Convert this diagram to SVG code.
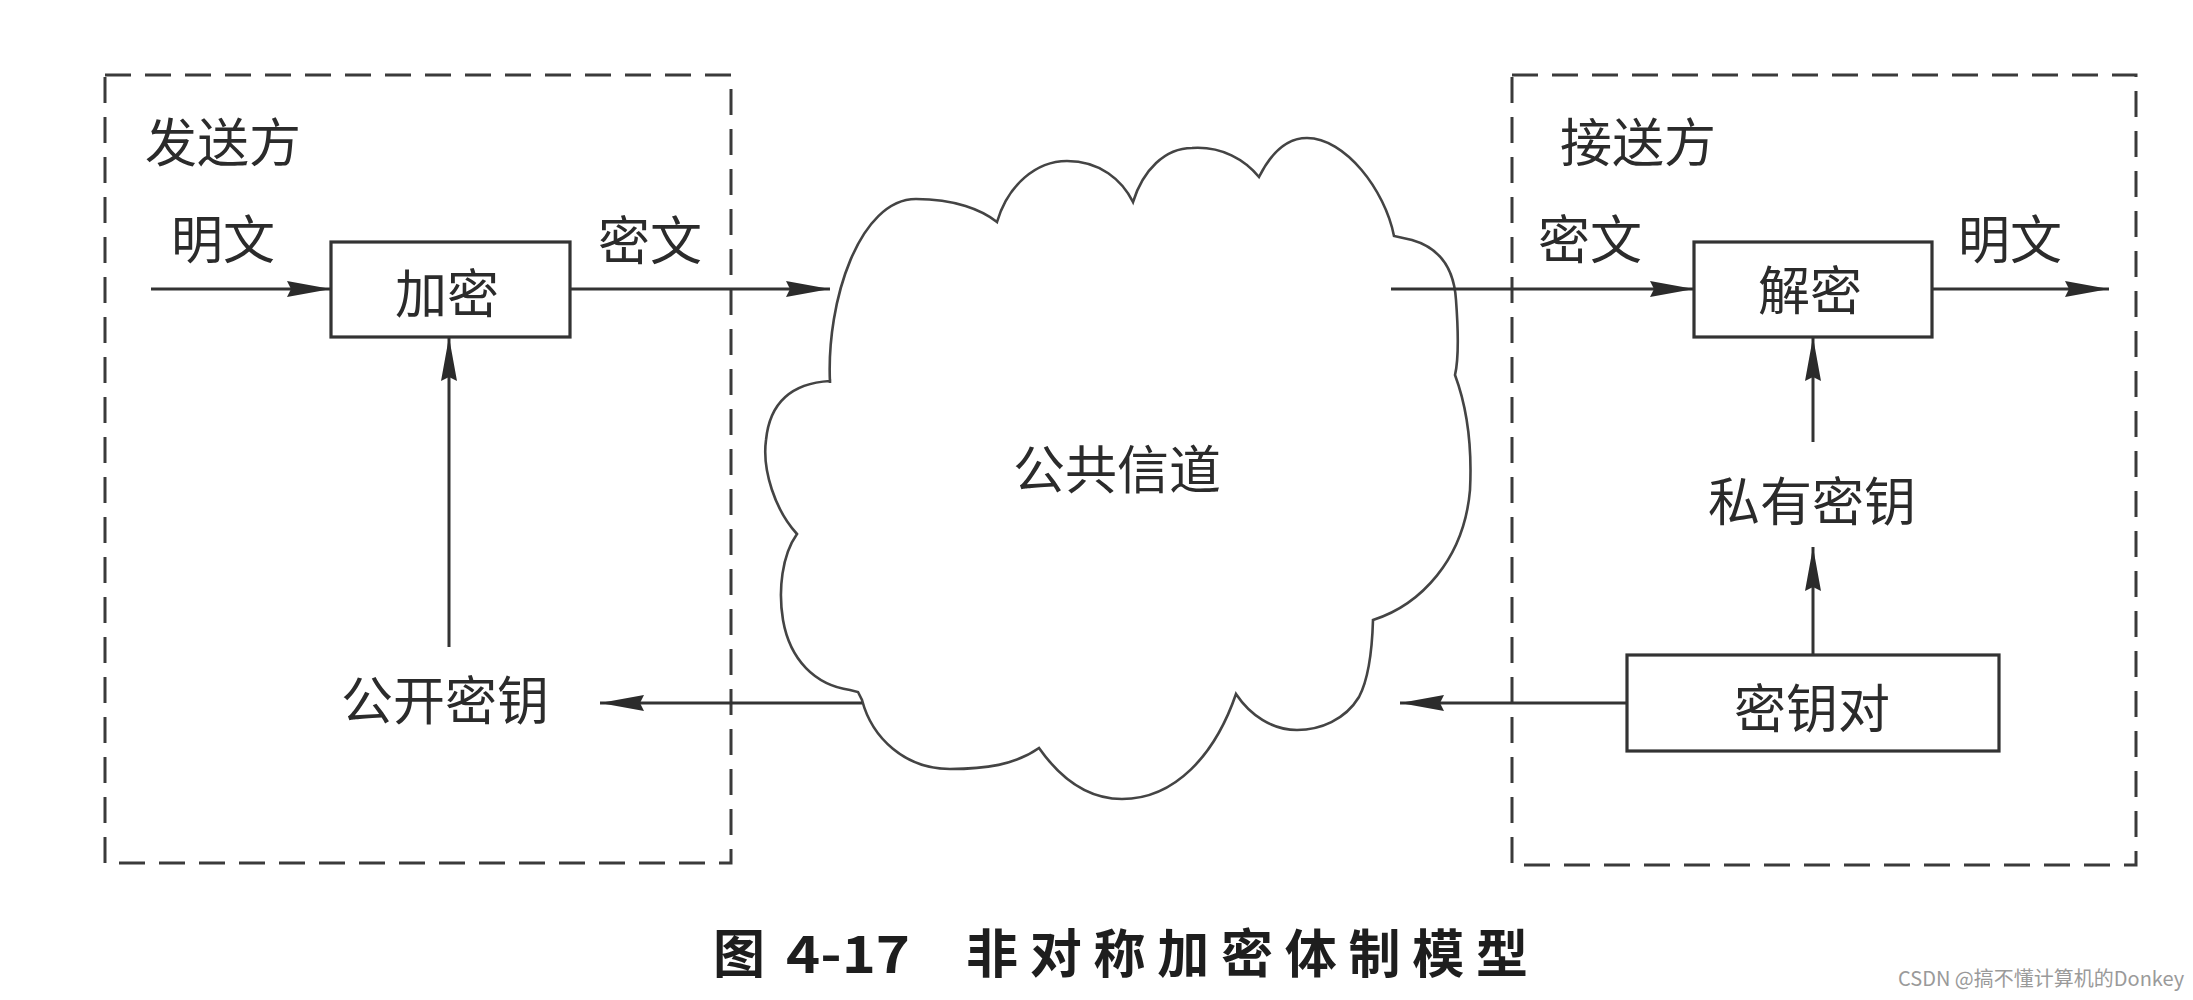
<svg xmlns="http://www.w3.org/2000/svg" width="2193" height="1000" viewBox="0 0 2193 1000">
<style>
  .bg { fill: #ffffff; }
  .zone { fill: none; stroke: #3a3a3a; stroke-width: 3; stroke-dasharray: 26 14; }
  .box { fill: #ffffff; stroke: #333333; stroke-width: 3.2; }
  .cloud { fill: #ffffff; stroke: #444444; stroke-width: 2.6; }
  .lbl { font-family: "Noto Sans CJK SC", "Noto Sans", sans-serif; font-size: 52px; fill: #2b2b2b; dominant-baseline: central; }
  .mid { text-anchor: middle; }
  .conn { stroke: #333333; stroke-width: 3; fill: none; marker-end: url(#ah); }
  .cap { font-family: "Noto Sans CJK SC", "Noto Sans", sans-serif; font-size: 52px; font-weight: bold; fill: #1e1e1e; }
  .wm { font-family: "Noto Sans CJK SC", "Noto Sans", sans-serif; font-size: 20px; fill: #9a9a9a; }
</style>
<defs>
  <marker id="ah" markerUnits="userSpaceOnUse" markerWidth="46" markerHeight="18" refX="44" refY="8" orient="auto">
    <path d="M0,0 L44,8 L0,16 L4,8 Z" fill="#2b2b2b"/>
  </marker>
</defs>
<rect class="bg" x="0" y="0" width="2193" height="1000"/>

<g id="sender">
  <rect class="zone" x="105" y="75" width="626" height="788"/>
  <text class="lbl" x="145" y="139">发送方</text>
</g>
<g id="receiver">
  <rect class="zone" x="1512" y="75" width="624" height="790"/>
  <text class="lbl" x="1560" y="139">接送方</text>
</g>

<g id="channel">
  <path class="cloud" d="M 830 383 C 826 300, 860 199, 916 199 C 955 199, 982 210, 997 222 C 1008 185, 1036 161, 1067 161 C 1100 161, 1122 180, 1133 202 C 1143 170, 1165 148, 1192 148 C 1222 146, 1245 160, 1259 177 C 1270 155, 1285 138, 1307 138 C 1345 138, 1385 190, 1394 236 L 1412 240 C 1440 248, 1454 268, 1456 300 C 1459 340, 1458 362, 1455 375 C 1468 410, 1472 450, 1470 490 C 1464 560, 1420 605, 1373 620 C 1372 655, 1368 680, 1359 697 C 1345 720, 1320 730, 1297 730 C 1272 730, 1250 715, 1236 694 C 1215 755, 1175 799, 1122 799 C 1085 799, 1058 775, 1039 748 C 1015 765, 985 769, 950 769 C 905 769, 872 738, 862 700 L 858 692 L 850 690 C 815 685, 790 660, 783 620 C 778 590, 782 555, 797 534 C 775 510, 762 470, 766 440 C 770 400, 795 383, 830 381 Z"/>
  <text class="lbl mid" x="1117" y="466">公共信道</text>
</g>

<g id="encrypt">
  <rect class="box" x="331" y="242" width="239" height="95"/>
  <text class="lbl mid" x="447" y="290">加密</text>
</g>
<g id="decrypt">
  <rect class="box" x="1694" y="242" width="238" height="95"/>
  <text class="lbl mid" x="1810" y="287">解密</text>
</g>
<g id="keypair">
  <rect class="box" x="1627" y="655" width="372" height="96"/>
  <text class="lbl mid" x="1812" y="705">密钥对</text>
</g>
<g id="publickey">
  <text class="lbl mid" x="445" y="697">公开密钥</text>
</g>
<g id="privatekey">
  <text class="lbl mid" x="1812" y="498">私有密钥</text>
</g>
<g id="labels">
  <text class="lbl mid" x="223" y="236">明文</text>
  <text class="lbl mid" x="650" y="237">密文</text>
  <text class="lbl mid" x="1590" y="236">密文</text>
  <text class="lbl mid" x="2010" y="236">明文</text>
</g>

<g id="connectors">
  <line class="conn" x1="151" y1="289" x2="331" y2="289"/>
  <line class="conn" x1="570" y1="289" x2="830" y2="289"/>
  <line class="conn" x1="449" y1="647" x2="449" y2="337"/>
  <line class="conn" x1="862" y1="703" x2="600" y2="703"/>
  <line class="conn" x1="1391" y1="289" x2="1694" y2="289"/>
  <line class="conn" x1="1932" y1="289" x2="2109" y2="289"/>
  <line class="conn" x1="1813" y1="442" x2="1813" y2="337"/>
  <line class="conn" x1="1813" y1="655" x2="1813" y2="547"/>
  <line class="conn" x1="1627" y1="703" x2="1400" y2="703"/>
</g>

<g id="caption">
  <text class="cap" x="713" y="973">图</text>
  <text class="cap" x="786" y="973" textLength="124" lengthAdjust="spacingAndGlyphs">4-17</text>
  <text class="cap" x="966" y="973" textLength="562" lengthAdjust="spacing">非对称加密体制模型</text>
  <text class="wm" x="1898" y="986">CSDN @搞不懂计算机的Donkey</text>
</g>
</svg>
